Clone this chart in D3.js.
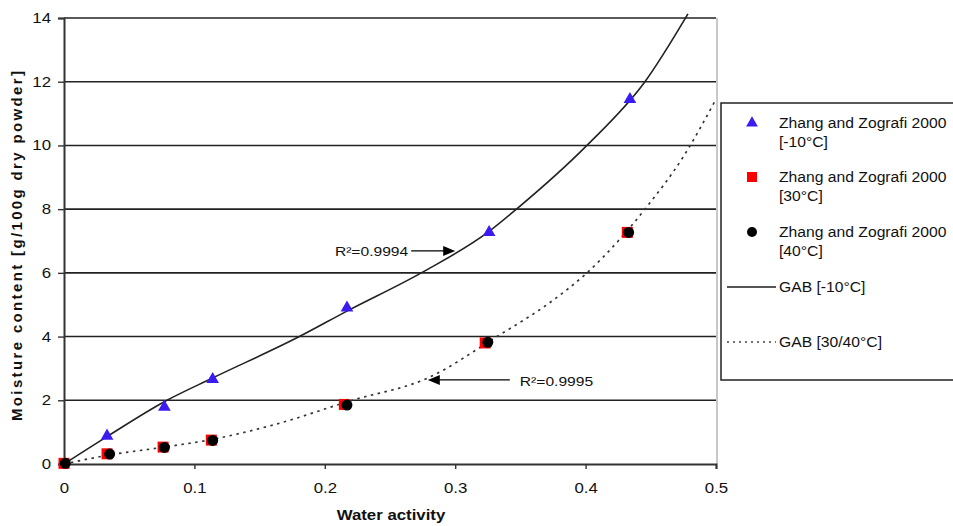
<!DOCTYPE html>
<html><head><meta charset="utf-8">
<script src="https://cdn.jsdelivr.net/npm/d3@7"></script>
<style>body{margin:0;background:#fff;} svg{display:block;font-family:"Liberation Sans",Arial,sans-serif;}</style>
</head><body>
<svg id="c" width="953" height="526"></svg>
<script>
// ---- data ----
const xTicks = [0, 0.1, 0.2, 0.3, 0.4, 0.5];
const yTicks = [0, 2, 4, 6, 8, 10, 12, 14];
const triAw = [0.033, 0.077, 0.114, 0.217, 0.326, 0.434];
const triM  = [0.88, 1.79, 2.66, 4.9, 7.27, 11.45];
const sqAw  = [0, 0.033, 0.076, 0.113, 0.215, 0.323, 0.432];
const sqM   = [0.02, 0.32, 0.53, 0.75, 1.87, 3.8, 7.27];
const cirAw = [0.001, 0.035, 0.077, 0.114, 0.217, 0.325, 0.433];
const cirM  = [0.02, 0.31, 0.52, 0.74, 1.85, 3.82, 7.27];
const gab10Aw = [0, 0.033, 0.079, 0.114, 0.1805, 0.217, 0.274, 0.326, 0.347, 0.401, 0.4455, 0.4785];
const gab10M  = [0, 0.86, 2.0, 2.7, 4.0, 4.8, 6.0, 7.3, 8.0, 10.0, 12.0, 14.13];
const gab30Aw = [0, 0.033, 0.075, 0.112, 0.16, 0.221, 0.279, 0.332, 0.372, 0.401, 0.425, 0.4455, 0.475, 0.5];
const gab30M  = [0, 0.27, 0.52, 0.76, 1.22, 2.0, 2.7, 4.0, 5.05, 6.0, 7.0, 8.0, 9.65, 11.45];
const legendLabels = [["Zhang and Zografi 2000", "[-10°C]"], ["Zhang and Zografi 2000", "[30°C]"], ["Zhang and Zografi 2000", "[40°C]"], ["GAB [-10°C]"], ["GAB [30/40°C]"]];
const annotations = [{text: "R²=0.9994", aw: 0.300, m: 6.69}, {text: "R²=0.9995", aw: 0.279, m: 2.64}];

// ---- chart ----
const svg = d3.select("#c");
const x = d3.scaleLinear().domain([0, 0.5]).range([64, 716]);
const y = d3.scaleLinear().domain([0, 14]).range([464, 18]);
const ink = "#111";
const WIDE = 1.2;
function stretch(sel, k) {
  sel.each(function () {
    const w = this.getComputedTextLength();
    d3.select(this).attr("textLength", w * k).attr("lengthAdjust", "spacingAndGlyphs");
  });
  return sel;
}

// gridlines
svg.append("g").selectAll("line").data(yTicks.filter(d => d > 0)).join("line")
  .attr("x1", x(0)).attr("x2", x(0.5)).attr("y1", d => y(d)).attr("y2", d => y(d))
  .attr("stroke", "#222").attr("stroke-width", 1.6);
// right border
svg.append("line").attr("x1", x(0.5) + 1).attr("x2", x(0.5) + 1).attr("y1", y(14)).attr("y2", y(0))
  .attr("stroke", "#c8c8c8").attr("stroke-width", 2);

// axes
const xAxis = d3.axisBottom(x).tickValues(xTicks).tickFormat(d => d === 0 ? "0" : d3.format(".1f")(d)).tickSize(5).tickPadding(14);
const gx = svg.append("g").attr("transform", `translate(0,${y(0)})`).call(xAxis);
gx.select(".domain").attr("stroke", "#333").attr("stroke-width", 2);
gx.selectAll(".tick line").attr("stroke", "#333").attr("stroke-width", 1.4);
stretch(gx.selectAll("text").attr("font-size", 14).attr("fill", ink).attr("font-family", "Liberation Sans, Arial, sans-serif"), WIDE);

const yAxis = d3.axisLeft(y).tickValues(yTicks).tickFormat(d3.format("d")).tickSize(6).tickPadding(7);
const gy = svg.append("g").attr("transform", `translate(${x(0)},0)`).call(yAxis);
gy.select(".domain").attr("stroke", "#333").attr("stroke-width", 2);
gy.selectAll(".tick line").attr("stroke", "#333").attr("stroke-width", 1.4);
stretch(gy.selectAll("text").attr("font-size", 14).attr("fill", ink).attr("font-family", "Liberation Sans, Arial, sans-serif"), WIDE);

// axis titles
stretch(svg.append("text").attr("x", 391).attr("y", 520).attr("text-anchor", "middle")
  .attr("font-size", 14).attr("font-weight", "bold").attr("fill", ink).text("Water activity"), WIDE);
svg.append("text").attr("transform", "translate(22,246) rotate(-90)").attr("text-anchor", "middle")
  .attr("font-size", 15).attr("font-weight", "bold").attr("fill", ink)
  .attr("textLength", 350).attr("lengthAdjust", "spacing").text("Moisture content [g/100g dry powder]");

// curves
const line = d3.line().x(d => x(d[0])).y(d => y(d[1])).curve(d3.curveMonotoneX);
svg.append("path").attr("d", line(gab10Aw.map((a, i) => [a, gab10M[i]])))
  .attr("fill", "none").attr("stroke", "#222").attr("stroke-width", 1.6);
svg.append("path").attr("d", line(gab30Aw.map((a, i) => [a, gab30M[i]])))
  .attr("fill", "none").attr("stroke", "#333").attr("stroke-width", 1.7).attr("stroke-dasharray", "2.5,4.5");

// markers
const tri = d3.symbol().type(d3.symbolTriangle).size(70);
svg.append("g").selectAll("path").data(triAw.map((a, i) => [a, triM[i]])).join("path")
  .attr("d", tri).attr("transform", d => `translate(${x(d[0])},${y(d[1])})`).attr("fill", "#3a1cf0");
svg.append("g").selectAll("rect").data(sqAw.map((a, i) => [a, sqM[i]])).join("rect")
  .attr("x", d => x(d[0]) - 5.5).attr("y", d => y(d[1]) - 5.5).attr("width", 11).attr("height", 11).attr("fill", "#f00");
svg.append("g").selectAll("circle").data(cirAw.map((a, i) => [a, cirM[i]])).join("circle")
  .attr("cx", d => x(d[0])).attr("cy", d => y(d[1])).attr("r", 5.5).attr("fill", "#000");

// annotations
const a1 = annotations[0], a2 = annotations[1];
stretch(svg.append("text").attr("x", x(a1.aw) - 47).attr("y", y(a1.m) + 5).attr("text-anchor", "end")
  .attr("font-size", 13).attr("fill", ink).text(a1.text), WIDE);
svg.append("line").attr("x1", x(a1.aw) - 44).attr("x2", x(a1.aw) - 10).attr("y1", y(a1.m)).attr("y2", y(a1.m)).attr("stroke", "#000").attr("stroke-width", 1.4);
svg.append("path").attr("d", `M${x(a1.aw)},${y(a1.m)} l-12,-5 l0,10 z`).attr("fill", "#000");
stretch(svg.append("text").attr("x", x(a2.aw) + 92).attr("y", y(a2.m) + 6).attr("text-anchor", "start")
  .attr("font-size", 13).attr("fill", ink).text(a2.text), WIDE);
svg.append("line").attr("x1", x(a2.aw) + 10).attr("x2", x(a2.aw) + 82).attr("y1", y(a2.m)).attr("y2", y(a2.m)).attr("stroke", "#000").attr("stroke-width", 1.4);
svg.append("path").attr("d", `M${x(a2.aw)},${y(a2.m)} l12,-5 l0,10 z`).attr("fill", "#000");

// legend
const lg = svg.append("g");
lg.append("rect").attr("x", 721).attr("y", 103).attr("width", 245).attr("height", 277)
  .attr("fill", "#fff").attr("stroke", "#222").attr("stroke-width", 1.5);
const rowY = [123, 177, 232, 287, 342];
legendLabels.forEach((lab, i) => {
  lab.forEach((t, j) => {
    stretch(lg.append("text").attr("x", 779).attr("y", rowY[i] + 5 + j * 19).attr("font-size", 14).attr("fill", ink).text(t), 1.12);
  });
});
lg.append("path").attr("d", d3.symbol().type(d3.symbolTriangle).size(60)).attr("transform", `translate(752,${rowY[0]})`).attr("fill", "#3a1cf0");
lg.append("rect").attr("x", 747).attr("y", rowY[1] - 5).attr("width", 10).attr("height", 10).attr("fill", "#f00");
lg.append("circle").attr("cx", 752).attr("cy", rowY[2]).attr("r", 5).attr("fill", "#000");
lg.append("line").attr("x1", 727).attr("x2", 776).attr("y1", rowY[3]).attr("y2", rowY[3]).attr("stroke", "#555").attr("stroke-width", 2);
lg.append("line").attr("x1", 727).attr("x2", 776).attr("y1", rowY[4]).attr("y2", rowY[4]).attr("stroke", "#444").attr("stroke-width", 1.3).attr("stroke-dasharray", "2,4");
</script>
</body></html>
